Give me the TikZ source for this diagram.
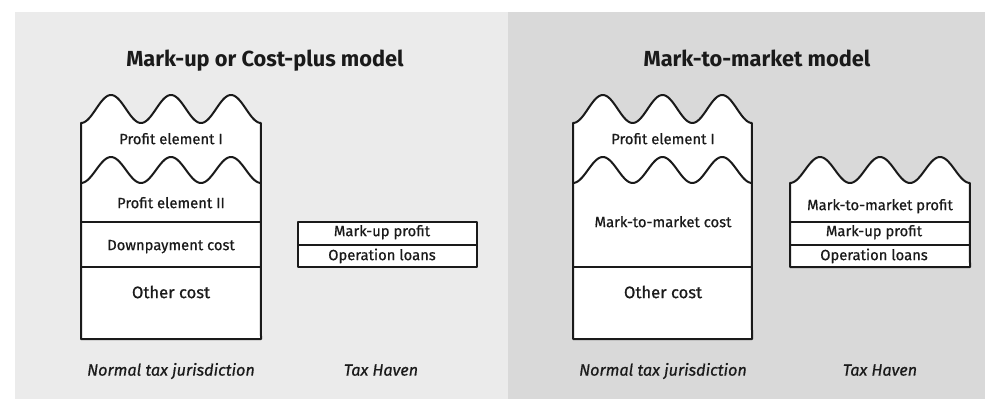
\documentclass[tikz,border=0pt]{standalone}
\usepackage{fontspec}
\setmainfont{Fira Sans}
\newfontfamily\labelfont[FakeBold=0.7]{Fira Sans}
\definecolor{panelleft}{HTML}{EBEBEB}
\definecolor{panelright}{HTML}{D9D9D9}
\definecolor{ink}{HTML}{1A1A1A}
\begin{document}
\begin{tikzpicture}[x=1pt,y=-1pt,
  boxline/.style={draw=ink,line width=2pt,line join=round},
  title/.style={font=\fontsize{21.8}{26}\selectfont\bfseries,text=ink,anchor=mid,inner sep=0pt},
  lbl/.style={font=\labelfont\fontsize{14.8}{17}\selectfont,text=ink,anchor=mid,inner sep=0pt},
  biglbl/.style={font=\labelfont\fontsize{16.6}{19}\selectfont,text=ink,anchor=mid,inner sep=0pt},
  place/.style={font=\labelfont\fontsize{16.2}{19}\selectfont\itshape,text=ink,anchor=mid,inner sep=0pt}]
\useasboundingbox (0,0) rectangle (985,399);
\fill[white] (0,0) rectangle (985,399);
% two panels
\fill[panelleft] (15,12) rectangle (508,399);
\fill[panelright] (508,12) rectangle (985,399);

% ---------- Mark-up / cost-plus model ----------
\node[title] (t1) at (265,64) {Mark-up or Cost-plus model};
\draw[boxline,fill=white] (81,339) -- (81,123)
  -- plot[domain=0:1,samples=120] ({81+180*\x},{109+14*cos(1080*\x)})
  -- (261,339) -- cycle;
\draw[boxline] plot[domain=0:1,samples=120] ({81+180*\x},{170+13*cos(1080*\x)});
\draw[boxline] (81,222) -- (261,222);
\draw[boxline] (81,267) -- (261,267);
\node[lbl] (pe1a) at (171,141.5) {Profit element I};
\node[lbl] (pe2a) at (171,205.5) {Profit element II};
\node[lbl] (dpc) at (171,247.5) {Downpayment cost};
\node[biglbl] (oca) at (171,295.5) {Other cost};

\draw[boxline,fill=white] (298,222) rectangle (477,267);
\draw[boxline] (298,245) -- (477,245);
\node[lbl] (mupa) at (382,233.5) {Mark-up profit};
\node[lbl] (ola) at (382,257.5) {Operation loans};

\node[place] (ntja) at (171,373) {Normal tax jurisdiction};
\node[place] (tha) at (381,373) {Tax Haven};

% ---------- Mark-to-market model ----------
\node[title] (t2) at (757,64) {Mark-to-market model};
\draw[boxline,fill=white] (573,339) -- (573,123)
  -- plot[domain=0:1,samples=120] ({573+179*\x},{109+14*cos(1080*\x)})
  -- (752,339) -- cycle;
\draw[boxline] plot[domain=0:1,samples=120] ({573+179*\x},{170+13*cos(1080*\x)});
\draw[boxline] (573,267) -- (752,267);
\node[lbl] (pe1b) at (663,141.5) {Profit element I};
\node[lbl] (mtmc) at (663,224.5) {Mark-to-market cost};
\node[biglbl] (ocb) at (663,295.5) {Other cost};

\draw[boxline,fill=white] (790,267) -- (790,183)
  -- plot[domain=0:1,samples=120] ({790+180*\x},{170+13*cos(1080*\x)})
  -- (970,267) -- cycle;
\draw[boxline] (790,222) -- (970,222);
\draw[boxline] (790,245) -- (970,245);
\node[lbl] (mtmp) at (880,207.5) {Mark-to-market profit};
\node[lbl] (mupb) at (874,233.5) {Mark-up profit};
\node[lbl] (olb) at (874,257.5) {Operation loans};

\node[place] (ntjb) at (663,373) {Normal tax jurisdiction};
\node[place] (thb) at (880,373) {Tax Haven};
\end{tikzpicture}
\end{document}
